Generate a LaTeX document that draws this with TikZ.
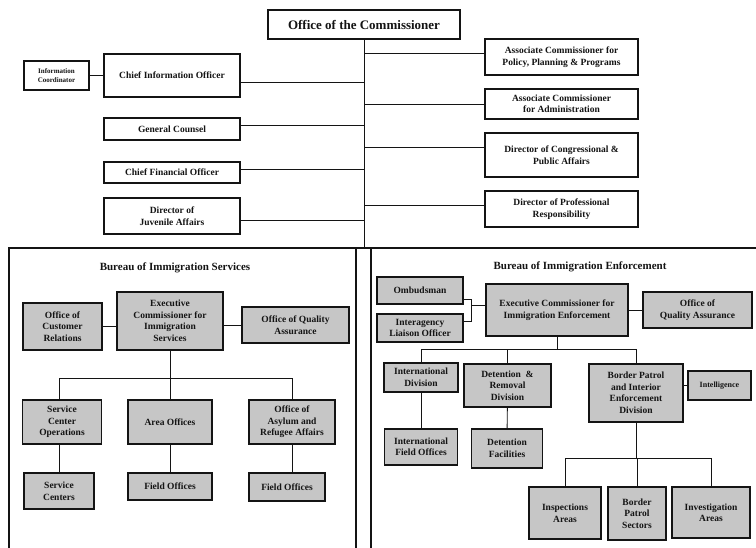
\documentclass[tikz,border=0pt]{standalone}
\usepackage{fontspec}
\setmainfont{Liberation Serif}
\usepackage{tikz}
\usepackage{xcolor}
\usetikzlibrary{positioning,calc}
\definecolor{ink}{HTML}{141414}
\definecolor{boxgray}{HTML}{C6C6C6}
\tikzset{
  card/.style={draw=ink,fill=white,line width=1.1pt,align=center,inner sep=1pt,
               text=ink,font=\bfseries\fontsize{9.5}{11.5}\selectfont},
  graycard/.style={card,fill=boxgray},
  wh/.style 2 args={minimum width=#1pt,minimum height=#2pt},
  link/.style={draw=ink,line width=0.9pt},
  frame/.style={draw=ink,line width=1.1pt},
  bureau/.style={text=ink,font=\bfseries\fontsize{11}{13}\selectfont}
}
\begin{document}
\begin{tikzpicture}[x=1pt,y=-1pt]
    \path[use as bounding box] (0,0) rectangle (756,548);
    \node[card,wh={192}{29},font=\bfseries\fontsize{13}{15}\selectfont] (comm) at (364,24.5)
      {Office of the Commissioner};
    \coordinate (hub) at (364,248);
    \node[card,wh={65}{29},font=\bfseries\fontsize{7}{8.5}\selectfont] (infoc) at (56.5,75.5)
      {Information\\Coordinator};
    \node[card,wh={136}{43}] (cio) at (172,75.5) {Chief Information Officer};
    \node[card,wh={136}{22}] (gc) at (172,129) {General Counsel};
    \node[card,wh={136}{21}] (cfo) at (172,172.5) {Chief Financial Officer};
    \node[card,wh={136}{36}] (dja) at (172,216) {Director of\\Juvenile Affairs};
    \node[card,wh={153}{36}] (acppp) at (561.5,57)
      {Associate Commissioner for\\Policy, Planning \& Programs};
    \node[card,wh={153}{30}] (acadm) at (561.5,104)
      {Associate Commissioner\\for Administration};
    \node[card,wh={153}{44}] (dcpa) at (561.5,155)
      {Director of Congressional \&\\Public Affairs};
    \node[card,wh={153}{36}] (dpr) at (561.5,209)
      {Director of Professional\\Responsibility};
    \draw[link] (comm) -- (hub);
    \draw[link] (infoc) -- (cio);
    \foreach \n/\dy in {cio/-6.5,gc/4,cfo/3.5,dja/-4}
      \draw[link] ([yshift=\dy pt]\n.east) -- ([yshift=\dy pt]\n.east -| hub);
    \foreach \n/\dy in {acppp/4,acadm/0,dcpa/8,dpr/4}
      \draw[link] ([yshift=\dy pt]\n.west) -- ([yshift=\dy pt]\n.west -| hub);
    \draw[frame] (9,548) |- (756,248);
    \draw[frame] (356,248) -- (356,548);
    \draw[frame] (371,248) -- (371,548);
    \node[bureau] (bistitle) at (175,268) {Bureau of Immigration Services};
    \node[graycard,wh={79}{47}] (ocr) at (62.5,326.5) {Office of\\Customer\\Relations};
    \node[graycard,wh={106}{58}] (ecis) at (170,321)
      {Executive\\Commissioner for\\Immigration\\Services};
    \node[graycard,wh={107}{36}] (oqa1) at (295.5,325) {Office of Quality\\Assurance};
    \node[graycard,wh={79}{44}] (sco) at (62,422) {Service\\Center\\Operations};
    \node[graycard,wh={84}{44}] (ao) at (170,422) {Area Offices};
    \node[graycard,wh={86}{44}] (oara) at (292,422) {Office of\\Asylum and\\Refugee Affairs};
    \node[graycard,wh={70}{36}] (sc) at (59,491) {Service\\Centers};
    \node[graycard,wh={84}{27}] (fo1) at (170,486.5) {Field Offices};
    \node[graycard,wh={76}{28}] (fo2) at (287,487) {Field Offices};
    \draw[link] (ocr.east) -- (ocr.east -| ecis.west);
    \draw[link] (oqa1.west) -- (oqa1.west -| ecis.east);
    \draw[link] (ecis.south) -- ++(0,28) coordinate (bisbar);
    \draw[link] (sco.north -| sc.north) |- (bisbar) -| (oara.north);
    \draw[link] (bisbar) -- (ao.north);
    \draw[link] (sc.north |- sco.south) -- (sc.north);
    \draw[link] (ao) -- (fo1);
    \draw[link] (oara.south) -- (oara.south |- fo2.north);
    \node[bureau] (bietitle) at (580,267) {Bureau of Immigration Enforcement};
    \node[graycard,wh={86}{27}] (omb) at (420,290.5) {Ombudsman};
    \node[graycard,wh={86}{28}] (ilo) at (420,328) {Interagency\\Liaison Officer};
    \node[graycard,wh={142}{52}] (ecie) at (557,310)
      {Executive Commissioner for\\Immigration Enforcement};
    \node[graycard,wh={109}{36}] (oqa2) at (697.5,310) {Office of\\Quality Assurance};
    \node[graycard,wh={74}{29}] (intd) at (421,377.5) {International\\Division};
    \node[graycard,wh={87}{43}] (drd) at (507.5,385.5) {Detention \ \&\\Removal\\Division};
    \node[graycard,wh={94}{58}] (bpd) at (636,393)
      {Border Patrol\\and Interior\\Enforcement\\Division};
    \node[graycard,wh={63}{29},font=\bfseries\fontsize{8}{10}\selectfont] (intel) at (719.5,385.5)
      {Intelligence};
    \node[graycard,wh={73}{36}] (ifo) at (421,447) {International\\Field Offices};
    \node[graycard,wh={71}{39}] (df) at (507,448.5) {Detention\\Facilities};
    \node[graycard,wh={72}{52}] (ia) at (565,513) {Inspections\\Areas};
    \node[graycard,wh={58}{53}] (bps) at (637,513.5) {Border\\Patrol\\Sectors};
    \node[graycard,wh={78}{51}] (inva) at (711,512.5) {Investigation\\Areas};
    \draw[link] ([yshift=-8.5pt]omb.east) -- ++(8,0) coordinate (ombk)
      |- ([yshift=7pt]ilo.east);
    \draw[link] ([yshift=5pt]ecie.west) -- ([yshift=5pt]ecie.west -| ombk);
    \draw[link] (oqa2) -- (ecie);
    \draw[link] (ecie.south) -- ++(0,13) coordinate (biebar);
    \draw[link] (intd.north) |- (biebar) -| (bpd.north);
    \draw[link] (drd.north) -- (drd.north |- biebar);
    \draw[link] (intel.west) -- (intel.west -| bpd.east);
    \draw[link] (intd) -- (ifo);
    \draw[link] (drd) -- (df);
    \draw[link] (bpd.south) -- ++(0,36) coordinate (bpbar);
    \draw[link] (ia.north) |- (bpbar) -| (inva.north);
    \draw[link] (bps.north) -- (bps.north |- bpbar);
  \end{tikzpicture}
\end{document}
